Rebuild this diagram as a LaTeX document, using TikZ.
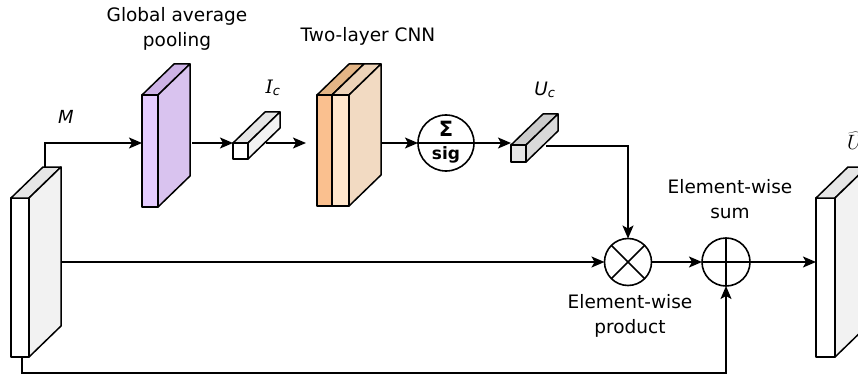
\documentclass[tikz,border=0pt]{standalone}
\usepackage{fontspec}
\setmainfont{DejaVu Sans}
\newfontfamily\serifit{DejaVu Serif}
\usetikzlibrary{arrows.meta}
\definecolor{purfront}{HTML}{E5CCFF}
\definecolor{purtop}{HTML}{CDB2E6}
\definecolor{purside}{HTML}{D9C3EF}
\definecolor{orfront}{HTML}{FAC08F}
\definecolor{ortop}{HTML}{E3B586}
\definecolor{pchfront}{HTML}{FFE6CC}
\definecolor{pchtop}{HTML}{EDD3B8}
\definecolor{pchside}{HTML}{F2DAC2}
\definecolor{gtop}{HTML}{E6E6E6}
\definecolor{gside}{HTML}{F2F2F2}
\definecolor{dgfront}{HTML}{E6E6E6}
\definecolor{dgtop}{HTML}{CCCCCC}
\definecolor{dgside}{HTML}{D9D9D9}
\tikzset{
  face/.style={draw, line width=1.5pt, line join=round, inner sep=0pt, outer sep=0pt},
  conn/.style={line width=1.6pt, -{Stealth[length=13pt,width=11pt,inset=3pt]}},
  wire/.style={line width=1.6pt},
  lbl/.style={font=\fontsize{18.5}{25}\selectfont, align=center, inner sep=0pt},
  op/.style={circle, draw, line width=1.6pt, inner sep=0pt, outer sep=0pt, fill=white},
}
% #1 name, #2 x, #3 y, #4 w, #5 h, #6 front, #7 top, #8 side
\newcommand\cub[8]{%
  \node[face, fill=#6, minimum width=#4pt, minimum height=#5pt, anchor=north west] (#1) at (#2,#3) {};
  \draw[face, fill=#7] (#1.north west) -- ++(32,-31) -- ++(#4,0) -- (#1.north east) -- cycle;
  \draw[face, fill=#8] (#1.north east) -- ++(32,-31) -- ++(0,#5) -- (#1.south east) -- cycle;
}
\begin{document}
\begin{tikzpicture}[x=1pt,y=-1pt]
\useasboundingbox (0,0) rectangle (858,374);
\clip (0,0) rectangle (858,374);
\fill[white] (0,0) rectangle (858,374);

% blocks
\cub{M}{11}{198}{18}{159}{white}{gtop}{gside}
\cub{pur}{142}{95}{16}{112}{purfront}{purtop}{purside}
\cub{Ic}{233}{143}{15}{16}{white}{gtop}{gside}
\cub{cnnA}{317}{95}{15}{111}{orfront}{ortop}{ortop}
\cub{cnnB}{332}{95}{17}{111}{pchfront}{pchtop}{pchside}
\cub{Uc}{511}{145}{15}{17}{dgfront}{dgtop}{dgside}
\cub{out}{816}{198}{19}{159}{white}{gtop}{gside}

% operators
\node[op, minimum size=56pt] (sig) at (446,143) {};
\draw[wire] (sig.west) -- (sig.east);
\node[inner sep=0pt, font=\bfseries\fontsize{21}{21}\selectfont] (sigS) at (446,129) {Σ};
\node[inner sep=0pt, font=\bfseries\fontsize{17}{17}\selectfont] (sigT) at (446,155) {sig};

\node[op, minimum size=47pt] (prod) at (628,262) {};
\draw[wire] (prod.north west) -- (prod.south east);
\draw[wire] (prod.north east) -- (prod.south west);

\node[op, minimum size=48pt] (sum) at (726,262) {};
\draw[wire] (sum.north) -- (sum.south);
\draw[wire] (sum.west) -- (sum.east);

% helper coordinates
\coordinate (mTop) at (45,167);
\coordinate (purIn) at (142,143);
\coordinate (purOut) at (192,143);
\coordinate (icIn) at (233,143);
\coordinate (icOut) at (266,143);
\coordinate (cnnIn) at (306,143);
\coordinate (cnnOut) at (381,143);
\coordinate (ucIn) at (511,143);
\coordinate (ucOut) at (546,146);
\coordinate (mMid) at (61,262);
\coordinate (mBot) at (22,357);
\coordinate (outIn) at (816,262);

% connectors
\draw[conn] (mTop) |- (purIn);
\draw[conn] (purOut) -- (icIn);
\draw[conn] (icOut) -- (cnnIn);
\draw[conn] (cnnOut) -- (sig.west);
\draw[conn] (sig.east) -- (ucIn);
\draw[conn] (ucOut) -| (prod.north);
\draw[conn] (mMid) -- (prod.west);
\draw[conn] (prod.east) -- (sum.west);
\draw[conn] (sum.east) -- (outIn);
\draw[conn] (mBot) -- (22,373) -| (sum.south);

% labels
\node[lbl] (tGap) at (177,29) {Global average\\pooling};
\node[lbl] (tCnn) at (368,36) {Two-layer CNN};
\node[lbl, font=\itshape\fontsize{18}{18}\selectfont] (tM) at (66,117) {M};
\node[lbl] (tIc) at (273,88) {{\serifit\itshape I}\textsubscript{\itshape c}};
\node[lbl] (tUc) at (545,90) {{\itshape U}\textsubscript{\itshape c}};
\node[lbl] (tSum) at (730,199) {Element-wise\\sum};
\node[lbl] (tProd) at (630,316) {Element-wise\\product};
\node[lbl, font=\fontsize{22}{22}\selectfont] (tOut) at (855,141) {$\widehat{U}$};
\end{tikzpicture}
\end{document}
